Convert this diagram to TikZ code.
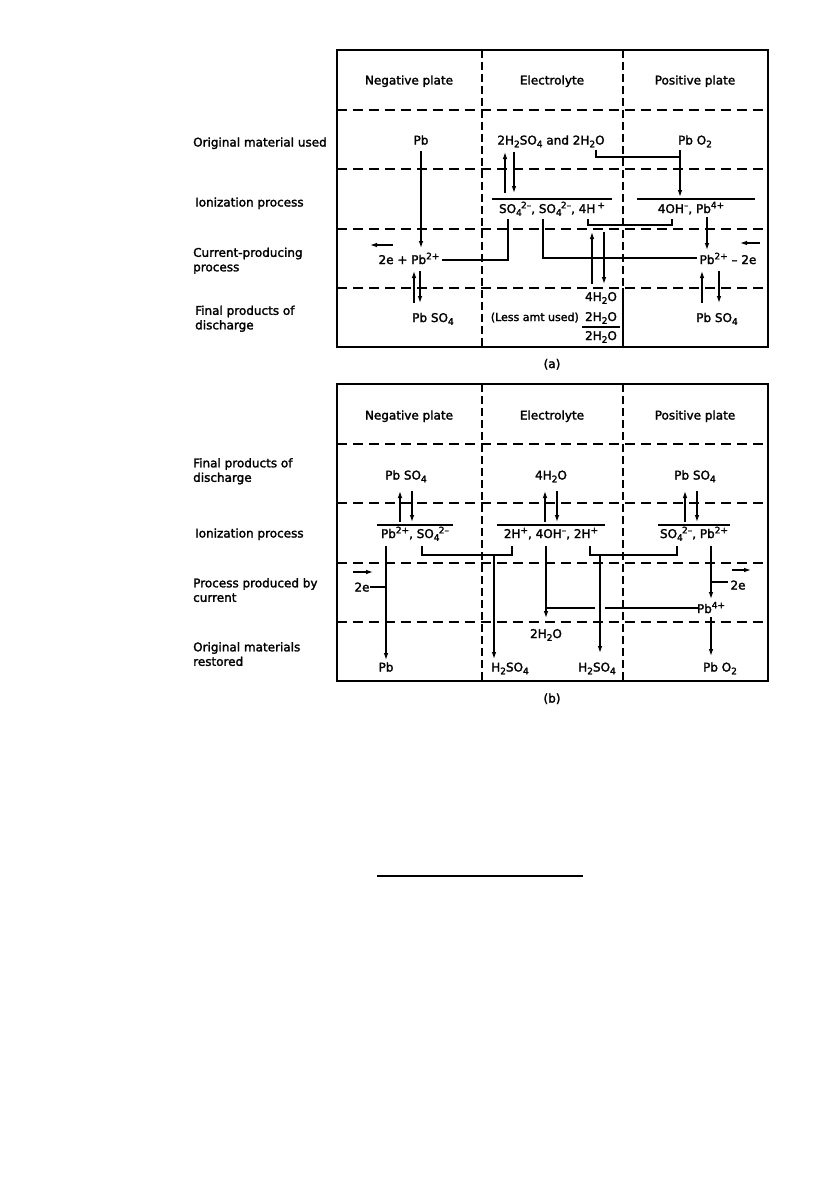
\documentclass[tikz,border=0pt]{standalone}
\usepackage{fontspec}
\setmainfont{DejaVu Sans}[FakeBold=2]
\usetikzlibrary{arrows.meta}
\newcommand\chsb[1]{\raisebox{-2.8pt}{\fontsize{9}{9}\selectfont #1}}
\newcommand\chsp[1]{\raisebox{4.6pt}{\fontsize{9}{9}\selectfont #1}}
\newcommand\chss[2]{\chsb{#1}\kern-0.8pt\chsp{#2}}
\begin{document}
\begin{tikzpicture}[x=1pt,y=-1pt,
  txt/.style={inner sep=0pt, font=\fontsize{12}{14.5}\selectfont},
  lbl/.style={txt, align=left},
  frame/.style={line width=1.6pt},
  hdash/.style={line width=1.5pt, dash pattern=on 10pt off 6pt},
  vdash/.style={line width=1.2pt, dash pattern=on 8pt off 4pt},
  conn/.style={line width=1.2pt},
  arr/.style={conn, -{Latex[length=7pt,width=4.6pt]}},
  ovl/.style={line width=1.2pt}]
\useasboundingbox (0,0) rectangle (840,1180);
\fill[white] (0,0) rectangle (840,1180);

% ================= panel (a) =================
\draw[frame] (337,50) rectangle (768,347);
\foreach \yy in {110,169,229,288} \draw[hdash] (337,\yy) -- (768,\yy);
\draw[vdash] (482,50) -- (482,347);
\draw[vdash] (623,50) -- (623,288);
\draw[conn] (623,288) -- (623,347);

\node[txt,anchor=base] (aHN) at (409,84.5) {Negative plate};
\node[txt,anchor=base] (aHE) at (552,84.5) {Electrolyte};
\node[txt,anchor=base] (aHP) at (695,84.5) {Positive plate};

\node[lbl,anchor=base west] (aL1) at (193,146.5) {Original material used};
\node[lbl,anchor=base west] (aL2) at (195,206.5) {Ionization process};
\node[lbl,anchor=north west] (aL3) at (193,247.5) {Current-producing\\process};
\node[lbl,anchor=north west] (aL4) at (195,305.5) {Final products of\\discharge};

\node[txt,anchor=base] (aPb) at (421,144.5) {Pb};
\node[txt,anchor=base] (aAcid) at (551,144.5) {2H\chsb{2}SO\chsb{4} and 2H\chsb{2}O};
\node[txt,anchor=base] (aPbO) at (695,144.5) {Pb O\chsb{2}};

\node[txt,anchor=base] (aIonE) at (552,213) {SO\chss{4}{2\textendash}, SO\chss{4}{2\textendash}, 4H\,\chsp{+}};
\draw[ovl] (492,199) -- (612,199);
\node[txt,anchor=base] (aIonP) at (691,213) {4OH\chsp{\textendash}, Pb\chsp{4+}};
\draw[ovl] (637,199) -- (755,199);

\node[txt,anchor=base] (aPbL) at (409,264) {2e + Pb\chsp{2+}};
\node[txt,anchor=base] (aPbR) at (728,264) {Pb\chsp{2+} \textendash\ 2e};

\node[txt,anchor=base] (aSO4L) at (433,322) {Pb SO\chsb{4}};
\node[txt,anchor=base] (aSO4R) at (717,322) {Pb SO\chsb{4}};
\node[txt,anchor=base] (aW1) at (601,301) {4H\chsb{2}O};
\node[txt,anchor=base east,font=\fontsize{11}{13}\selectfont] (aLess) at (579,321) {(Less amt used)};
\node[txt,anchor=base] (aW2) at (601,321) {2H\chsb{2}O};
\node[txt,anchor=base] (aW3) at (601,340) {2H\chsb{2}O};
\draw[ovl] (582,327) -- (620,327);

% connectors (a)
\coordinate (aPbS) at (421,151);
\coordinate (aPbLN) at (421,248);
\draw[arr] (aPbS) -- (aPbLN);
\coordinate (aUpB) at (505,193); \coordinate (aUpT) at (505,152);
\draw[arr] (aUpB) -- (aUpT);
\coordinate (aDnT) at (514,152); \coordinate (aDnB) at (514,193);
\draw[arr] (aDnT) -- (aDnB);
\coordinate (aWatS) at (596,150); \coordinate (aPbOJ) at (680,157);
\draw[conn] (aWatS) |- (aPbOJ);
\coordinate (aPbOS) at (680,150); \coordinate (aOHN) at (680,197);
\draw[arr] (aPbOS) -- (aOHN);
\coordinate (aSO1) at (508,219); \coordinate (aPbLE) at (442,260);
\draw[conn] (aSO1) |- (aPbLE);
\coordinate (aSO2) at (543,219); \coordinate (aPbRW) at (697,258);
\draw[conn] (aSO2) |- (aPbRW);
\coordinate (aHp) at (588,219); \coordinate (aOHm) at (672,219);
\draw[conn] (aHp) -- ++(0,6) -| (aOHm);
\coordinate (aWUB) at (592,284); \coordinate (aWUT) at (592,232);
\draw[arr] (aWUB) -- (aWUT);
\coordinate (aWDT) at (604,232); \coordinate (aWDB) at (604,284);
\draw[arr] (aWDT) -- (aWDB);
\coordinate (aPb4S) at (707,217); \coordinate (aPb2N) at (707,250);
\draw[arr] (aPb4S) -- (aPb2N);
\coordinate (aLUB) at (414,303); \coordinate (aLUT) at (414,271);
\draw[arr] (aLUB) -- (aLUT);
\coordinate (aLDT) at (420,271); \coordinate (aLDB) at (420,303);
\draw[arr] (aLDT) -- (aLDB);
\coordinate (aRUB) at (702,303); \coordinate (aRUT) at (702,271);
\draw[arr] (aRUB) -- (aRUT);
\coordinate (aRDT) at (719,271); \coordinate (aRDB) at (719,303);
\draw[arr] (aRDT) -- (aRDB);
\coordinate (aEl1) at (393,245); \coordinate (aEl2) at (370,245);
\draw[arr] (aEl1) -- (aEl2);
\coordinate (aEr1) at (760,243); \coordinate (aEr2) at (740,243);
\draw[arr] (aEr1) -- (aEr2);

\node[txt,anchor=base] (capA) at (552,368) {(a)};

% ================= panel (b) =================
\draw[frame] (337,384) rectangle (768,681);
\foreach \yy in {444,503,563,622} \draw[hdash] (337,\yy) -- (768,\yy);
\draw[vdash] (482,384) -- (482,681);
\draw[vdash] (623,384) -- (623,681);

\node[txt,anchor=base] (bHN) at (409,419.5) {Negative plate};
\node[txt,anchor=base] (bHE) at (552,419.5) {Electrolyte};
\node[txt,anchor=base] (bHP) at (695,419.5) {Positive plate};

\node[lbl,anchor=north west] (bL1) at (193,458) {Final products of\\discharge};
\node[lbl,anchor=base west] (bL2) at (195,537.5) {Ionization process};
\node[lbl,anchor=north west] (bL3) at (193,578) {Process produced by\\current};
\node[lbl,anchor=north west] (bL4) at (193,642) {Original materials\\restored};

\node[txt,anchor=base] (bSO4L) at (406,479.5) {Pb SO\chsb{4}};
\node[txt,anchor=base] (bW) at (551,479.5) {4H\chsb{2}O};
\node[txt,anchor=base] (bSO4R) at (695,479.5) {Pb SO\chsb{4}};

\node[txt,anchor=base] (bIonL) at (415,538) {Pb\chsp{2+}, SO\chss{4}{2\textendash}};
\draw[ovl] (377,525) -- (453,525);
\node[txt,anchor=base] (bIonE) at (551,538) {2H\chsp{+}, 4OH\chsp{\textendash}, 2H\chsp{+}};
\draw[ovl] (497,525) -- (605,525);
\node[txt,anchor=base] (bIonR) at (694,538) {SO\chss{4}{2\textendash}, Pb\chsp{2+}};
\draw[ovl] (658,525) -- (730,525);

\node[txt,anchor=base] (bEL) at (362,591.5) {2e};
\node[txt,anchor=base] (bER) at (738,589.5) {2e};
\node[txt,anchor=base] (bPb4) at (711,613) {Pb\chsp{4+}};
\node[txt,anchor=base] (bW2) at (546,638) {2H\chsb{2}O};
\node[txt,anchor=base] (bPb) at (386,671.5) {Pb};
\node[txt,anchor=base] (bAcL) at (510,671.5) {H\chsb{2}SO\chsb{4}};
\node[txt,anchor=base] (bAcR) at (597,671.5) {H\chsb{2}SO\chsb{4}};
\node[txt,anchor=base] (bPbO) at (720,671.5) {Pb O\chsb{2}};

% row 1 double arrows (b)
\coordinate (bLUB) at (400,522); \coordinate (bLUT) at (400,491);
\draw[arr] (bLUB) -- (bLUT);
\coordinate (bLDT) at (412,491); \coordinate (bLDB) at (412,522);
\draw[arr] (bLDT) -- (bLDB);
\coordinate (bMUB) at (545,522); \coordinate (bMUT) at (545,491);
\draw[arr] (bMUB) -- (bMUT);
\coordinate (bMDT) at (557,491); \coordinate (bMDB) at (557,522);
\draw[arr] (bMDT) -- (bMDB);
\coordinate (bRUB) at (685,522); \coordinate (bRUT) at (685,491);
\draw[arr] (bRUB) -- (bRUT);
\coordinate (bRDT) at (697,491); \coordinate (bRDB) at (697,522);
\draw[arr] (bRDT) -- (bRDB);

% connectors (b)
\coordinate (bPb2S) at (386,546); \coordinate (bPbN) at (386,660);
\draw[arr] (bPb2S) -- (bPbN);
\coordinate (bELE) at (370,587); \coordinate (bELJ) at (386,587);
\draw[conn] (bELE) -- (bELJ);
\coordinate (bEa1) at (353,572); \coordinate (bEa2) at (373,572);
\draw[arr] (bEa1) -- (bEa2);
\coordinate (bSOL) at (422,546); \coordinate (bHL) at (512,546);
\draw[conn] (bSOL) -- ++(0,9) -| (bHL);
\coordinate (bBrL) at (494,555); \coordinate (bAcLN) at (494,659);
\draw[arr] (bBrL) -- (bAcLN);
\coordinate (bHR) at (590,546); \coordinate (bSOR) at (677,546);
\draw[conn] (bHR) -- ++(0,9) -| (bSOR);
\coordinate (bBrR) at (600,555); \coordinate (bAcRN) at (600,653);
\draw[arr] (bBrR) -- (bAcRN);
\coordinate (bOHS) at (546,546); \coordinate (bW2N) at (546,618);
\draw[arr] (bOHS) -- (bW2N);
\coordinate (bPb4W) at (698,608); \coordinate (bHop1) at (605,608);
\coordinate (bHop2) at (595,608); \coordinate (bOHJ) at (546,608);
\draw[conn] (bPb4W) -- (bHop1);
\draw[conn] (bHop2) -- (bOHJ);
\coordinate (bPbRS) at (711,546); \coordinate (bPb4N) at (711,599);
\draw[arr] (bPbRS) -- (bPb4N);
\coordinate (bERW) at (728,582); \coordinate (bERJ) at (711,582);
\draw[conn] (bERW) -- (bERJ);
\coordinate (bEb1) at (732,570); \coordinate (bEb2) at (751,570);
\draw[arr] (bEb1) -- (bEb2);
\coordinate (bPb4S) at (711,617); \coordinate (bPbON) at (711,656);
\draw[arr] (bPb4S) -- (bPbON);

\node[txt,anchor=base] (capB) at (552,702.5) {(b)};

% rule below
\coordinate (rL) at (377,876); \coordinate (rR) at (583,876);
\draw[line width=1.2pt] (rL) -- (rR);
\end{tikzpicture}
\end{document}
